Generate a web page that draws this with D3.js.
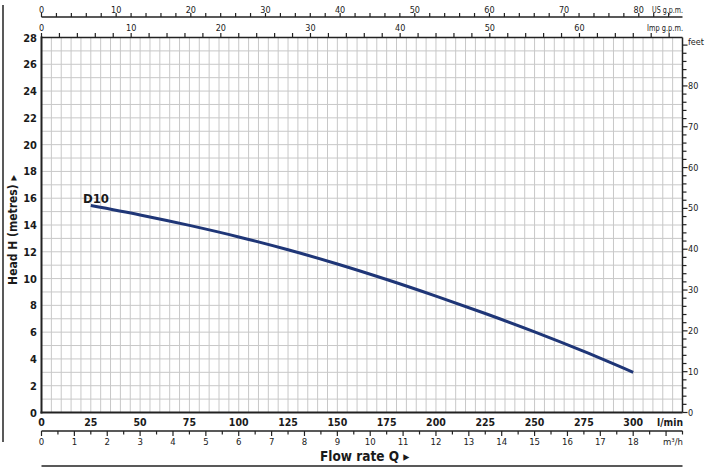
<!DOCTYPE html>
<html><head><meta charset="utf-8">
<script src="https://cdn.jsdelivr.net/npm/d3@7"></script>
<style>
html,body{margin:0;padding:0;background:#fff;}
svg{display:block;}
text{font-family:'Liberation Sans Narrow','DejaVu Sans Condensed','Roboto Condensed',Arial,sans-serif;fill:#1a1a1a;}
</style></head><body>
<svg id="c" width="706" height="468"></svg>
<script>
// ---- data ----
const seriesName = "D10";
const flowLmin = [25, 50, 75, 100, 125, 150, 175, 200, 225, 250, 275, 300];
const headD10  = [15.45, 14.75, 13.97, 13.11, 12.15, 11.09, 9.93, 8.69, 7.39, 6.02, 4.56, 3.0];
const headTicks = [0, 2, 4, 6, 8, 10, 12, 14, 16, 18, 20, 22, 24, 26, 28];
const lminTicks = [0, 25, 50, 75, 100, 125, 150, 175, 200, 225, 250, 275, 300];
const m3hTicks = [0, 1, 2, 3, 4, 5, 6, 7, 8, 9, 10, 11, 12, 13, 14, 15, 16, 17, 18];
const usGpmTicks = [0, 10, 20, 30, 40, 50, 60, 70, 80];
const impGpmTicks = [0, 10, 20, 30, 40, 50, 60];
const feetTicks = [0, 10, 20, 30, 40, 50, 60, 70, 80];

const svg = d3.select("#c");
const qMax = 325, hMax = 28;
const x = d3.scaleLinear().domain([0, qMax]).range([41.5, 682.5]);
const y = d3.scaleLinear().domain([0, hMax]).range([412.5, 37.5]);
const xM3 = d3.scaleLinear().domain([0, qMax * 0.06]).range(x.range());
const xUS = d3.scaleLinear().domain([0, qMax / 3.78541]).range(x.range());
const xImp = d3.scaleLinear().domain([0, qMax / 4.54609]).range(x.range());
const yFt = d3.scaleLinear().domain([0, hMax / 0.3048]).range(y.range());
const [x0, x1] = x.range(), [y0, y1] = y.range();
const dark = "#222";

// grid
const g = svg.append("g");
g.selectAll(".vg").data(d3.range(5, qMax, 5)).join("line")
  .attr("x1", d => x(d)).attr("x2", d => x(d)).attr("y1", y0).attr("y2", y1)
  .attr("stroke", "#c8c8c8").attr("stroke-width", 1);
g.selectAll(".hg").data(d3.range(1, hMax, 1)).join("line")
  .attr("y1", d => y(d)).attr("y2", d => y(d)).attr("x1", x0).attr("x2", x1)
  .attr("stroke", "#c8c8c8").attr("stroke-width", 1);

// frame
svg.append("line").attr("x1", x0).attr("x2", x1).attr("y1", y1).attr("y2", y1).attr("stroke", dark).attr("stroke-width", 1.3);
svg.append("line").attr("x1", x1).attr("x2", x1).attr("y1", y1).attr("y2", y0).attr("stroke", dark).attr("stroke-width", 1.5);
svg.append("line").attr("x1", x0).attr("x2", x0).attr("y1", y1 - 1).attr("y2", y0 + 1).attr("stroke", dark).attr("stroke-width", 2);
svg.append("line").attr("x1", x0 - 1).attr("x2", x1).attr("y1", y0).attr("y2", y0).attr("stroke", dark).attr("stroke-width", 2);

// left labels
svg.selectAll(".yl").data(headTicks).join("text")
  .attr("x", 37).attr("y", d => y(d) + 4).attr("text-anchor", "end")
  .attr("font-size", 11).attr("font-weight", "bold").text(d => d);

// bottom l/min labels
svg.selectAll(".xl").data(lminTicks).join("text")
  .attr("x", d => x(d)).attr("y", 426).attr("text-anchor", "middle")
  .attr("font-size", 10.5).attr("font-weight", "bold").text(d => d);
svg.append("text").attr("x", 683).attr("y", 426).attr("text-anchor", "end")
  .attr("font-size", 10.5).attr("font-weight", "bold")
  .attr("textLength", 26).attr("lengthAdjust", "spacingAndGlyphs").text("l/min");

// m3/h axis
const m3y = 431;
svg.append("line").attr("x1", x0).attr("x2", x1).attr("y1", m3y).attr("y2", m3y).attr("stroke", dark).attr("stroke-width", 1.3);
svg.selectAll(".m3t").data(d3.range(0, 19.51, 0.5)).join("line")
  .attr("x1", d => xM3(d)).attr("x2", d => xM3(d)).attr("y1", m3y)
  .attr("y2", d => m3y + (d % 1 === 0 ? 5 : 3.5)).attr("stroke", dark).attr("stroke-width", 1.2);
svg.selectAll(".m3l").data(m3hTicks).join("text")
  .attr("x", d => xM3(d)).attr("y", 445).attr("text-anchor", "middle")
  .attr("font-size", 9.5).attr("fill", "#333").text(d => d);
svg.append("text").attr("x", 683).attr("y", 445).attr("text-anchor", "end")
  .attr("font-size", 9.5).attr("fill", "#333").text("m³/h");

// US gpm axis (top)
const usy = 17;
svg.append("line").attr("x1", x0).attr("x2", x1).attr("y1", usy).attr("y2", usy).attr("stroke", dark).attr("stroke-width", 1.3);
svg.selectAll(".ust").data(d3.range(0, xUS.domain()[1], 2)).join("line")
  .attr("x1", d => xUS(d)).attr("x2", d => xUS(d)).attr("y1", usy).attr("y2", usy - 4)
  .attr("stroke", dark).attr("stroke-width", 1.2);
svg.selectAll(".usl").data(usGpmTicks).join("text")
  .attr("x", d => xUS(d)).attr("y", 12.5).attr("text-anchor", "middle")
  .attr("font-size", 9).attr("fill", "#333").text(d => d);
svg.append("text").attr("x", 683).attr("y", 12.5).attr("text-anchor", "end")
  .attr("font-size", 9).attr("fill", "#333")
  .attr("textLength", 31).attr("lengthAdjust", "spacingAndGlyphs").text("US g.p.m.");

// Imp gpm axis (top)
svg.selectAll(".impt").data(d3.range(0, xImp.domain()[1], 2)).join("line")
  .attr("x1", d => xImp(d)).attr("x2", d => xImp(d)).attr("y1", y1).attr("y2", y1 - 4.5)
  .attr("stroke", dark).attr("stroke-width", 1.2);
svg.selectAll(".impl").data(impGpmTicks).join("text")
  .attr("x", d => xImp(d)).attr("y", 30.5).attr("text-anchor", "middle")
  .attr("font-size", 9).attr("fill", "#333").text(d => d);
svg.append("text").attr("x", 683).attr("y", 30.5).attr("text-anchor", "end")
  .attr("font-size", 9).attr("fill", "#333")
  .attr("textLength", 36).attr("lengthAdjust", "spacingAndGlyphs").text("Imp g.p.m.");

// feet axis (right)
svg.selectAll(".ftt").data(d3.range(0, yFt.domain()[1], 2)).join("line")
  .attr("x1", x1).attr("x2", d => x1 + (d % 10 === 0 ? 5 : 4)).attr("y1", d => yFt(d)).attr("y2", d => yFt(d))
  .attr("stroke", dark).attr("stroke-width", 1.2);
svg.selectAll(".ftl").data(feetTicks).join("text")
  .attr("x", 688).attr("y", d => yFt(d) + 3).attr("font-size", 9).attr("fill", "#333").text(d => d);
svg.append("text").attr("x", 688).attr("y", 44.5).attr("font-size", 9).attr("fill", "#333").text("feet");

// curve
const pts = flowLmin.map((q, i) => [q, headD10[i]]);
svg.append("path").datum(pts)
  .attr("d", d3.line().x(d => x(d[0])).y(d => y(d[1])).curve(d3.curveCatmullRom))
  .attr("fill", "none").attr("stroke", "#1f3677").attr("stroke-width", 3);
svg.append("text").attr("x", 83).attr("y", 203).attr("font-size", 13).attr("font-weight", "bold").text(seriesName);

// titles
svg.append("text").attr("transform", "translate(17,230) rotate(-90)").attr("text-anchor", "middle")
  .attr("font-size", 12).attr("font-weight", "bold").text("Head H (metres) ▸");
svg.append("text").attr("x", 320).attr("y", 461).attr("font-size", 13.5).attr("font-weight", "bold").text("Flow rate Q ▸");

// decoration lines
svg.append("line").attr("x1", 3).attr("x2", 3).attr("y1", 5).attr("y2", 442).attr("stroke", dark).attr("stroke-width", 1.5);
svg.append("line").attr("x1", x0).attr("x2", x1).attr("y1", 466).attr("y2", 466).attr("stroke", dark).attr("stroke-width", 1.5);
</script>
</body></html>
